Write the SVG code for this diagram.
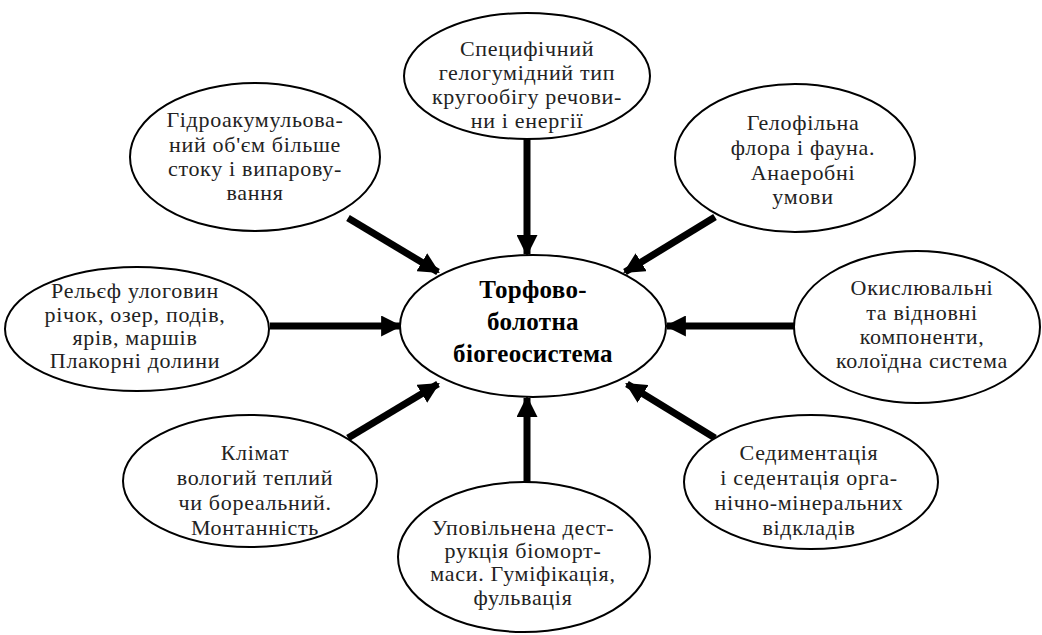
<svg xmlns="http://www.w3.org/2000/svg" width="1042" height="635" viewBox="0 0 1042 635">
<style>
.n ellipse{fill:#fff;stroke:#000;stroke-width:2}
.n text{font-family:"Liberation Serif","Times New Roman",serif;font-size:22px;letter-spacing:0.7px;text-anchor:middle;fill:#222}
#center text{font-size:25px;letter-spacing:0.3px;font-weight:bold;fill:#000}
.c line{stroke:#000;stroke-width:7;marker-end:url(#ah)}
</style>
<defs>
<marker id="ah" viewBox="0 0 10 10" refX="9" refY="5" markerWidth="3" markerHeight="3" orient="auto" markerUnits="strokeWidth">
<path d="M0,0 L10,5 L0,10 Z" fill="#000"/>
</marker>
</defs>
<rect width="1042" height="635" fill="#fff"/>
<g class="c" id="connectors">
<line x1="527" y1="139" x2="527" y2="254"/>
<line x1="348" y1="218" x2="438" y2="272"/>
<line x1="715" y1="217" x2="625" y2="272"/>
<line x1="270" y1="326" x2="400" y2="326"/>
<line x1="795" y1="326" x2="667" y2="326"/>
<line x1="348" y1="438" x2="438" y2="384"/>
<line x1="715" y1="438" x2="627" y2="384"/>
<line x1="527" y1="482" x2="527" y2="398"/>
</g>
<g class="n" id="center">
<ellipse cx="533" cy="326" rx="133" ry="71"/>
<text x="533" y="298">Торфово-</text>
<text x="533" y="330">болотна</text>
<text x="533" y="362">біогеосистема</text>
</g>
<g class="n" id="top">
<ellipse cx="527" cy="76" rx="123" ry="63"/>
<text x="527" y="56">Специфічний</text>
<text x="527" y="80">гелогумідний тип</text>
<text x="527" y="104">кругообігу речови-</text>
<text x="527" y="128">ни і енергії</text>
</g>
<g class="n" id="topleft">
<ellipse cx="255" cy="157" rx="125" ry="74"/>
<text x="255" y="127">Гідроакумульова-</text>
<text x="255" y="152">ний об'єм більше</text>
<text x="255" y="176">стоку і випарову-</text>
<text x="255" y="200">вання</text>
</g>
<g class="n" id="topright">
<ellipse cx="795" cy="158" rx="120" ry="74"/>
<text x="803" y="130">Гелофільна</text>
<text x="803" y="155">флора і фауна.</text>
<text x="803" y="180">Анаеробні</text>
<text x="803" y="204">умови</text>
</g>
<g class="n" id="left">
<ellipse cx="137" cy="329" rx="132" ry="62"/>
<text x="135" y="298">Рельєф улоговин</text>
<text x="135" y="322">річок, озер, подів,</text>
<text x="135" y="345">ярів, маршів</text>
<text x="135" y="368">Плакорні долини</text>
</g>
<g class="n" id="right">
<ellipse cx="917" cy="327" rx="123" ry="76"/>
<text x="922" y="295">Окислювальні</text>
<text x="922" y="320">та відновні</text>
<text x="922" y="344">компоненти,</text>
<text x="922" y="368">колоїдна система</text>
</g>
<g class="n" id="bottomleft">
<ellipse cx="250" cy="481" rx="127" ry="66"/>
<text x="255" y="460">Клімат</text>
<text x="255" y="485">вологий теплий</text>
<text x="255" y="510">чи бореальний.</text>
<text x="255" y="535">Монтанність</text>
</g>
<g class="n" id="bottomright">
<ellipse cx="811" cy="482" rx="127" ry="67"/>
<text x="809" y="460">Седиментація</text>
<text x="809" y="485">і седентація орга-</text>
<text x="809" y="510">нічно-мінеральних</text>
<text x="809" y="535">відкладів</text>
</g>
<g class="n" id="bottom">
<ellipse cx="524" cy="557" rx="126" ry="75"/>
<text x="523" y="535">Уповільнена  дест-</text>
<text x="523" y="558">рукція  біоморт-</text>
<text x="523" y="581">маси. Гуміфікація,</text>
<text x="523" y="605">фульвація</text>
</g>
</svg>
